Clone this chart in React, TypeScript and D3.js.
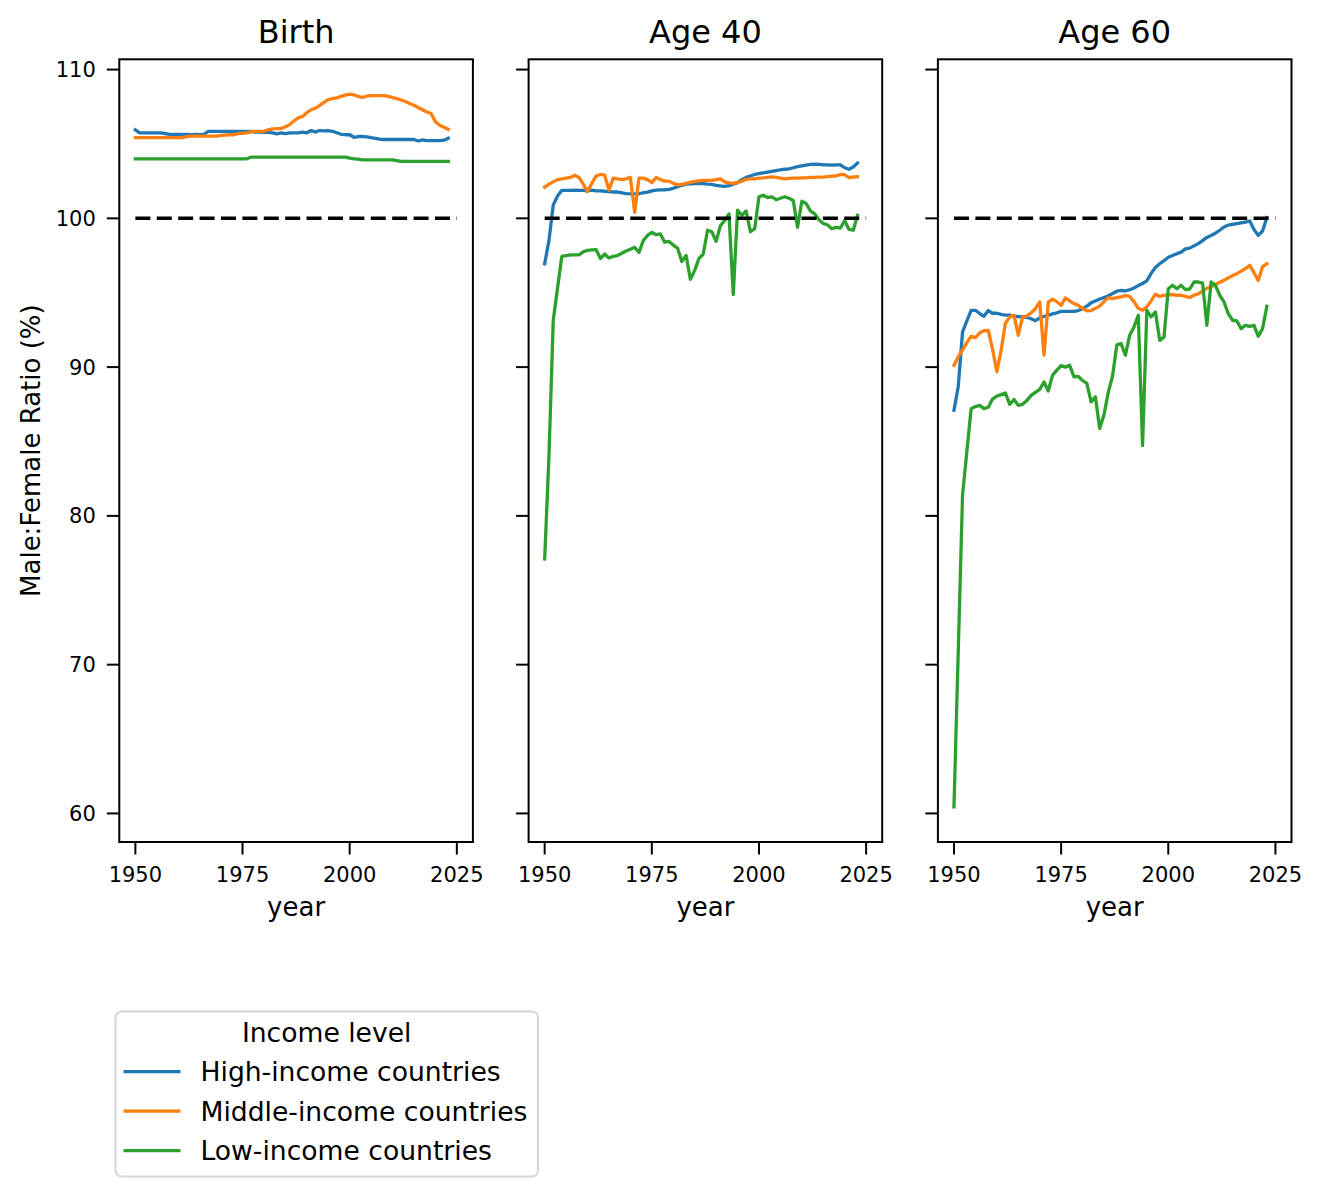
import React from "react";
import * as d3 from "d3";

const years: number[] = d3.range(1950, 2024);
const panelTitles = ["Birth", "Age 40", "Age 60"];
const seriesNames = ["High-income countries", "Middle-income countries", "Low-income countries"];
const seriesColors = ["#1f77b4", "#ff7f0e", "#2ca02c"];
const yTicks = [60, 70, 80, 90, 100, 110];
const xTicks = [1950, 1975, 2000, 2025];
const parityValue = 100;
const parityYears = [1950, 2025];

const birthHigh = [
  105.95, 105.75, 105.75, 105.75, 105.75, 105.75, 105.75, 105.7, 105.65, 105.65,
  105.65, 105.65, 105.65, 105.62, 105.65, 105.62, 105.65, 105.85, 105.85, 105.85,
  105.85, 105.85, 105.85, 105.85, 105.85, 105.85, 105.85, 105.85, 105.8, 105.8,
  105.78, 105.78, 105.75, 105.68, 105.75, 105.7, 105.75, 105.75, 105.75, 105.8,
  105.75, 105.9, 105.8, 105.9, 105.88, 105.9, 105.85, 105.75, 105.65, 105.62,
  105.62, 105.45, 105.5, 105.5, 105.48, 105.42, 105.38, 105.32, 105.3, 105.3,
  105.3, 105.3, 105.3, 105.3, 105.3, 105.3, 105.2, 105.28, 105.22, 105.22,
  105.22, 105.22, 105.25, 105.38,
];
const birthMiddle = [
  105.42, 105.42, 105.42, 105.42, 105.42, 105.42, 105.42, 105.42, 105.42, 105.42,
  105.42, 105.42, 105.5, 105.52, 105.52, 105.52, 105.52, 105.52, 105.52, 105.52,
  105.58, 105.6, 105.62, 105.62, 105.7, 105.72, 105.75, 105.82, 105.85, 105.85,
  105.85, 105.95, 106.02, 106.03, 106.05, 106.15, 106.3, 106.55, 106.75, 106.85,
  107.1, 107.3, 107.4, 107.6, 107.8, 107.98, 108.05, 108.1, 108.2, 108.28,
  108.35, 108.3, 108.2, 108.12, 108.22, 108.25, 108.25, 108.25, 108.25, 108.2,
  108.12, 108.05, 107.95, 107.85, 107.72, 107.6, 107.45, 107.3, 107.15, 107.05,
  106.5, 106.25, 106.12, 105.98,
];
const birthLow = [
  104.0, 104.0, 104.0, 104.0, 104.0, 104.0, 104.0, 104.0, 104.0, 104.0,
  104.0, 104.0, 104.0, 104.0, 104.0, 104.0, 104.0, 104.0, 104.0, 104.0,
  104.0, 104.0, 104.0, 104.0, 104.0, 104.0, 104.0, 104.12, 104.12, 104.12,
  104.12, 104.12, 104.12, 104.12, 104.12, 104.12, 104.12, 104.12, 104.12, 104.12,
  104.12, 104.12, 104.12, 104.12, 104.12, 104.12, 104.12, 104.12, 104.12, 104.12,
  104.05, 104.0, 103.98, 103.93, 103.93, 103.93, 103.93, 103.93, 103.93, 103.93,
  103.93, 103.88, 103.83, 103.83, 103.83, 103.83, 103.83, 103.83, 103.83, 103.83,
  103.83, 103.83, 103.83, 103.83,
];

const age40High = [
  96.95, 98.5, 100.9, 101.5, 101.88, 101.88, 101.88, 101.9, 101.88, 101.88,
  101.85, 101.9, 101.85, 101.85, 101.82, 101.8, 101.77, 101.77, 101.72, 101.66,
  101.65, 101.65, 101.66, 101.72, 101.76, 101.85, 101.9, 101.92, 101.92, 101.95,
  102.02, 102.12, 102.22, 102.3, 102.32, 102.33, 102.33, 102.33, 102.3, 102.28,
  102.22, 102.18, 102.15, 102.2, 102.3, 102.4, 102.6, 102.75, 102.85, 102.95,
  103.0, 103.05, 103.1, 103.15, 103.2, 103.25, 103.3, 103.33, 103.4, 103.48,
  103.53, 103.58, 103.62, 103.65, 103.63, 103.6, 103.6, 103.58, 103.6, 103.6,
  103.4, 103.3, 103.45, 103.72,
];
const age40Middle = [
  102.1, 102.3, 102.45, 102.6, 102.65, 102.7, 102.75, 102.9, 102.75, 102.3,
  101.8, 102.35, 102.85, 102.95, 102.9, 101.9, 102.7, 102.65, 102.6, 102.65,
  102.75, 100.4, 102.7, 102.7, 102.6, 102.4, 102.75, 102.6, 102.5, 102.5,
  102.35, 102.25, 102.28, 102.35, 102.42, 102.48, 102.52, 102.55, 102.55, 102.55,
  102.6, 102.65, 102.45, 102.38, 102.35, 102.4, 102.5, 102.62, 102.65, 102.65,
  102.7, 102.72, 102.75, 102.78, 102.75, 102.7, 102.65, 102.68, 102.7, 102.7,
  102.72, 102.72, 102.75, 102.75, 102.77, 102.77, 102.8, 102.83, 102.85, 102.95,
  102.93, 102.73, 102.78, 102.8,
];
const age40Low = [
  77.1, 84.0, 93.15, 95.3, 97.45, 97.5, 97.55, 97.55, 97.55, 97.75,
  97.85, 97.88, 97.9, 97.3, 97.6, 97.33, 97.45, 97.5, 97.65, 97.8,
  97.92, 98.05, 97.7, 98.5, 98.85, 99.05, 98.9, 98.95, 98.4, 98.45,
  98.2, 98.0, 97.1, 97.5, 95.9, 96.5, 97.3, 97.6, 99.2, 99.1,
  98.45, 99.5, 99.85, 100.3, 94.88, 100.55, 100.2, 100.5, 99.1, 99.3,
  101.45, 101.55, 101.4, 101.45, 101.25, 101.35, 101.45, 101.35, 101.2, 99.4,
  101.15, 101.0, 100.5, 100.3, 99.9, 99.65, 99.55, 99.3, 99.4, 99.35,
  99.85, 99.25, 99.2, 100.2,
];

const age60High = [
  87.1, 88.7, 92.36, 93.1, 93.82, 93.82, 93.6, 93.42, 93.8, 93.62,
  93.62, 93.55, 93.5, 93.5, 93.42, 93.4, 93.38, 93.35, 93.25, 93.12,
  93.3, 93.4, 93.5, 93.58, 93.65, 93.75, 93.75, 93.75, 93.75, 93.8,
  93.92, 94.1, 94.32, 94.45, 94.58, 94.67, 94.8, 94.95, 95.1, 95.15,
  95.12, 95.2, 95.32, 95.48, 95.62, 95.8, 96.3, 96.7, 96.95, 97.15,
  97.38, 97.5, 97.62, 97.73, 97.95, 98.0, 98.15, 98.3, 98.5, 98.72,
  98.85, 99.0, 99.2, 99.42, 99.55, 99.6, 99.65, 99.7, 99.75, 99.82,
  99.25, 98.85, 99.15, 100.05,
];
const age60Middle = [
  90.12, 90.7, 91.15, 91.65, 92.07, 91.98, 92.3, 92.45, 92.47, 91.2,
  89.7, 91.13, 92.95, 93.37, 93.48, 92.14, 93.37, 93.45, 93.64, 93.93,
  94.38, 90.8, 94.38, 94.56, 94.4, 94.15, 94.65, 94.45, 94.27, 94.15,
  93.95, 93.78, 93.8, 93.95, 94.1, 94.4, 94.67, 94.6, 94.67, 94.72,
  94.8, 94.75, 94.4, 93.95, 93.82, 94.05, 94.45, 94.9, 94.75, 94.82,
  94.85, 94.88, 94.83, 94.83, 94.75, 94.68, 94.83, 94.92, 95.1, 95.3,
  95.4, 95.55, 95.7, 95.83, 96.0, 96.15, 96.28, 96.45, 96.62, 96.84,
  96.35, 95.83, 96.75, 96.95,
];
const age60Low = [
  60.44, 70.9, 81.4, 84.3, 87.2, 87.35, 87.43, 87.21, 87.3, 87.85,
  88.05, 88.15, 88.26, 87.5, 87.82, 87.43, 87.5, 87.75, 88.1, 88.3,
  88.5, 89.0, 88.4, 89.45, 89.8, 90.1, 90.0, 90.12, 89.34, 89.38,
  89.1, 88.9, 87.66, 88.0, 85.87, 86.8, 88.3, 89.4, 91.5, 91.58,
  90.8, 92.14, 92.7, 93.48, 84.74, 93.82, 93.37, 93.71, 91.8, 92.02,
  95.27, 95.5, 95.27, 95.5, 95.21, 95.25, 95.72, 95.72, 95.65, 92.81,
  95.72, 95.5, 94.83, 94.38, 93.6, 93.15, 93.1, 92.59, 92.81, 92.74,
  92.81, 92.07, 92.59, 94.09,
];

const panelSeries = [
  [birthHigh, birthMiddle, birthLow],
  [age40High, age40Middle, age40Low],
  [age60High, age60Middle, age60Low],
];

const FONT = "'DejaVu Sans', 'Liberation Sans', sans-serif";
const WIDTH = 1322;
const HEIGHT = 1196;
const panelLefts = [119.3, 528.6, 937.9];
const panelW = 353.6;
const top = 59.3;
const bottom = 842;

export default function App() {
  const y = d3.scaleLinear().domain([58.08, 110.69]).range([bottom, top]);
  const xFor = (left: number) =>
    d3.scaleLinear().domain([1946.25, 2028.75]).range([left, left + panelW]);

  return (
    <svg
      width={WIDTH}
      height={HEIGHT}
      viewBox={`0 0 ${WIDTH} ${HEIGHT}`}
      style={{ position: "absolute", left: 0, top: 0, background: "#fff" }}
      fontFamily={FONT}
    >
      <rect x={0} y={0} width={WIDTH} height={HEIGHT} fill="#fff" />
      {panelLefts.map((left, pi) => {
        const x = xFor(left);
        const line = d3
          .line<number>()
          .x((_, i) => x(years[i]))
          .y((v) => y(v));
        const cx = left + panelW / 2;
        return (
          <g key={pi}>
            {panelSeries[pi].map((vals, si) => (
              <path
                key={si}
                d={line(vals) || ""}
                fill="none"
                stroke={seriesColors[si]}
                strokeWidth={3.3}
                strokeLinejoin="round"
                strokeLinecap="square"
              />
            ))}
            <line
              x1={x(parityYears[0])}
              x2={x(parityYears[1])}
              y1={y(parityValue)}
              y2={y(parityValue)}
              stroke="#000"
              strokeWidth={3.5}
              strokeDasharray="15 6.4"
            />
            <rect
              x={left}
              y={top}
              width={panelW}
              height={bottom - top}
              fill="none"
              stroke="#000"
              strokeWidth={2}
            />
            {yTicks.map((t) => (
              <g key={t}>
                <line x1={left - 12.5} x2={left} y1={y(t)} y2={y(t)} stroke="#000" strokeWidth={2} />
                {pi === 0 && (
                  <text x={left - 23.5} y={y(t)} dy={7.6} textAnchor="end" fontSize={21} fill="#000">
                    {t}
                  </text>
                )}
              </g>
            ))}
            {xTicks.map((t) => (
              <g key={t}>
                <line x1={x(t)} x2={x(t)} y1={bottom} y2={bottom + 12.5} stroke="#000" strokeWidth={2} />
                <text x={x(t)} y={881.5} textAnchor="middle" fontSize={21} fill="#000">
                  {t}
                </text>
              </g>
            ))}
            <text x={cx} y={916} textAnchor="middle" fontSize={26} fill="#000">
              year
            </text>
            <text x={cx} y={43} textAnchor="middle" fontSize={32} fill="#000">
              {panelTitles[pi]}
            </text>
          </g>
        );
      })}
      <text
        transform={`translate(39.5, ${(top + bottom) / 2}) rotate(-90)`}
        textAnchor="middle"
        fontSize={26}
        fill="#000"
      >
        Male:Female Ratio (%)
      </text>
      <g>
        <rect x={115.5} y={1011.5} width={422.5} height={165} rx={6} fill="#fff" stroke="#d6d6d6" strokeWidth={2} />
        <text x={326.7} y={1041.5} textAnchor="middle" fontSize={26.6} fill="#000">
          Income level
        </text>
        {seriesNames.map((name, i) => {
          const ly = 1071.7 + i * 39.5;
          return (
            <g key={name}>
              <line x1={123.5} x2={180.5} y1={ly} y2={ly} stroke={seriesColors[i]} strokeWidth={3.3} />
              <text x={200.5} y={ly + 9.6} fontSize={26.6} fill="#000">
                {name}
              </text>
            </g>
          );
        })}
      </g>
    </svg>
  );
}
